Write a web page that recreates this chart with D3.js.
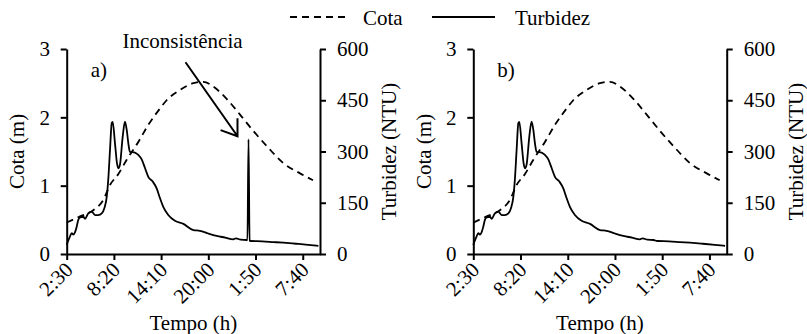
<!DOCTYPE html>
<html><head><meta charset="utf-8">
<script src="https://cdn.jsdelivr.net/npm/d3@7"></script>
</head><body style="margin:0">
<svg id="c" width="807" height="334" font-family="Liberation Serif" style="font-family:'Liberation Serif'"></svg>
<script>
// ---- data (time in minutes after 2:30) ----
const timeTicks = [0, 350, 700, 1050, 1400, 1750];
const timeTickLabels = ["2:30", "8:20", "14:10", "20:00", "1:50", "7:40"];
const timeMax = 1878;
const cotaTicks = [0, 1, 2, 3];
const turbTicks = [0, 150, 300, 450, 600];

const cotaTime  = [0, 99, 197, 271, 321, 383, 445, 531, 605, 692, 741, 840, 939, 1013, 1087, 1186, 1285, 1384, 1483, 1606, 1730, 1826];
const cotaValue = [0.46, 0.55, 0.64, 0.79, 1.01, 1.17, 1.38, 1.64, 1.89, 2.13, 2.25, 2.40, 2.50, 2.52, 2.45, 2.27, 2.04, 1.80, 1.58, 1.33, 1.18, 1.08];

const turbTime  = [0, 12, 24, 37, 49, 62, 74, 86, 99, 123, 136, 160, 185, 210, 234, 260, 279, 297, 308, 321, 334, 341, 358, 373, 383, 395, 415, 432, 445, 457, 469, 506, 531, 556, 581, 605, 638, 667, 692, 716, 753, 803, 865, 939, 988, 1050, 1112, 1175, 1235, 1255, 1290, 1335, 1364, 1450, 1530, 1606, 1700, 1790, 1866];
const turbValue = [26, 40, 51, 61, 57, 64, 80, 100, 107, 109, 103, 119, 124, 114, 114, 119, 134, 168, 217, 304, 384, 387, 324, 265, 251, 262, 343, 387, 363, 324, 299, 297, 290, 277, 251, 226, 212, 192, 163, 138, 114, 97, 88, 70, 68, 60, 53, 48, 43, 46, 42, 41, 38, 37, 35, 33, 30, 27, 24];

// inconsistent spike present only in panel a
const spikeTime  = [1340, 1348, 1356];
const spikeValue = [41, 336, 39];

const panelLabels = ["a)", "b)"];
const legendLabels = ["Cota", "Turbidez"];
const yLeftTitle = "Cota (m)";
const yRightTitle = "Turbidez (NTU)";
const xTitle = "Tempo (h)";
const annotationText = "Inconsistência";

// ---- drawing ----
const svg = d3.select("#c");
const FS = 21;
const plotTop = 49, plotBottom = 254;
const panels = [
  {left: 66.7, right: 320, label: panelLabels[0], spike: true},
  {left: 473.3, right: 726.7, label: panelLabels[1], spike: false}
];

const cotaData = cotaTime.map((t, i) => ({t, v: cotaValue[i]}));
const baseTurb = turbTime.map((t, i) => ({t, v: turbValue[i]}));
const spikeData = spikeTime.map((t, i) => ({t, v: spikeValue[i]}));

function addText(parent) {
  return parent.append("text")
    .style("font-family", "'Liberation Serif'")
    .style("font-size", FS + "px")
    .attr("fill", "#000");
}

panels.forEach(p => {
  const g = svg.append("g");
  const x = d3.scaleLinear().domain([0, timeMax]).range([p.left, p.right]);
  const yC = d3.scaleLinear().domain([0, 3]).range([plotBottom, plotTop]);
  const yT = d3.scaleLinear().domain([0, 600]).range([plotBottom, plotTop]);

  const style = sel => {
    sel.attr("font-family", "Liberation Serif").attr("font-size", FS);
    sel.select(".domain").attr("stroke", "#000").attr("stroke-width", 2);
    sel.selectAll(".tick line").attr("stroke", "#000").attr("stroke-width", 2);
    sel.selectAll("text").attr("fill", "#000")
      .style("font-family", "'Liberation Serif'").style("font-size", FS + "px");
  };

  // x axis
  const gx = g.append("g").attr("transform", `translate(0,${plotBottom})`)
    .call(d3.axisBottom(x).tickValues(timeTicks).tickFormat((d, i) => timeTickLabels[i]).tickSize(6).tickSizeOuter(0));
  style(gx);
  gx.selectAll(".tick text")
    .attr("x", 0).attr("y", 0).attr("dy", 0)
    .attr("text-anchor", "end")
    .attr("transform", "translate(7,17) rotate(-45)");

  // left axis
  const gl = g.append("g").attr("transform", `translate(${p.left},0)`)
    .call(d3.axisLeft(yC).tickValues(cotaTicks).tickFormat(d3.format("d")).tickSize(6).tickPadding(10.7).tickSizeOuter(0));
  style(gl);

  // right axis
  const gr = g.append("g").attr("transform", `translate(${p.right},0)`)
    .call(d3.axisRight(yT).tickValues(turbTicks).tickFormat(d3.format("d")).tickSize(6).tickPadding(11).tickSizeOuter(0));
  style(gr);

  // lines
  const turbData = p.spike ? baseTurb.concat(spikeData).sort((a, b) => a.t - b.t) : baseTurb;
  g.append("path").datum(turbData)
    .attr("fill", "none").attr("stroke", "#000").attr("stroke-width", 1.8)
    .attr("stroke-linejoin", "round")
    .attr("d", d3.line().x(d => x(d.t)).y(d => yT(d.v)).curve(d3.curveMonotoneX));
  g.append("path").datum(cotaData)
    .attr("fill", "none").attr("stroke", "#000").attr("stroke-width", 1.8)
    .attr("stroke-dasharray", "7,5")
    .attr("d", d3.line().x(d => x(d.t)).y(d => yC(d.v)).curve(d3.curveMonotoneX));

  // titles
  const mid = (plotTop + plotBottom) / 2;
  addText(g).attr("transform", `translate(${p.left - 42.5},${mid}) rotate(-90)`)
    .attr("text-anchor", "middle").text(yLeftTitle);
  addText(g).attr("transform", `translate(${p.right + 76},${mid}) rotate(-90)`)
    .attr("text-anchor", "middle").text(yRightTitle);
  addText(g).attr("x", (p.left + p.right) / 2).attr("y", 330)
    .attr("text-anchor", "middle").text(xTitle);
  addText(g).attr("x", p.left + 24).attr("y", 77).text(p.label);

  // annotation for the spike
  if (p.spike) {
    const peak = spikeData[d3.maxIndex(spikeData, d => d.v)];
    const px = x(peak.t), py = yT(peak.v);
    const tip = [px - 11, py - 3];
    const start = [tip[0] - 52, tip[1] - 74];
    const ang = Math.atan2(start[1] - tip[1], start[0] - tip[0]);
    const L = 18, a = 35 * Math.PI / 180;
    const w1 = [tip[0] + L * Math.cos(ang + a), tip[1] + L * Math.sin(ang + a)];
    const w2 = [tip[0] + L * Math.cos(ang - a), tip[1] + L * Math.sin(ang - a)];
    g.append("path")
      .attr("d", `M${start}L${tip}M${w1}L${tip}L${w2}`)
      .attr("fill", "none").attr("stroke", "#000").attr("stroke-width", 2);
    addText(g).attr("x", start[0] - 3).attr("y", 48)
      .attr("text-anchor", "middle").text(annotationText);
  }
});

// legend
const lg = svg.append("g");
lg.append("line").attr("x1", 290).attr("x2", 350).attr("y1", 17).attr("y2", 17)
  .attr("stroke", "#000").attr("stroke-width", 1.8).attr("stroke-dasharray", "7,5");
addText(lg).attr("x", 363).attr("y", 25).text(legendLabels[0]);
lg.append("line").attr("x1", 432).attr("x2", 495).attr("y1", 17).attr("y2", 17)
  .attr("stroke", "#000").attr("stroke-width", 1.8);
addText(lg).attr("x", 515).attr("y", 25).text(legendLabels[1]);
</script>
</body></html>
